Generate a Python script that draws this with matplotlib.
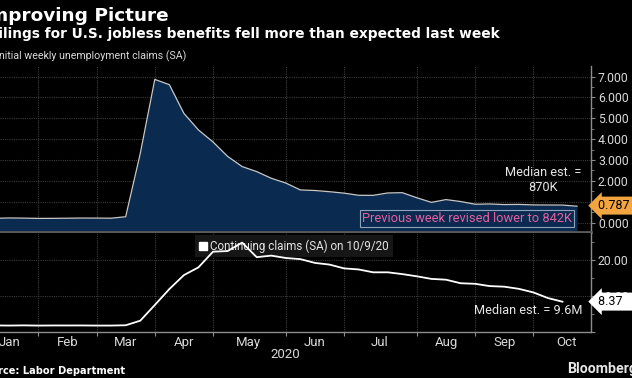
import matplotlib
matplotlib.use("Agg")
import matplotlib.pyplot as plt
import matplotlib.dates as mdates
from matplotlib.lines import Line2D
from matplotlib.ticker import FixedLocator, FixedFormatter, NullFormatter
import pandas as pd

plt.rcParams['font.family'] = ['Roboto', 'DejaVu Sans']

# ---------------- data ----------------
initial_dates = pd.date_range('2020-01-04', '2020-10-17', freq='7D')
initial_claims = [0.214, 0.207, 0.223, 0.216, 0.202, 0.205, 0.211, 0.219, 0.217, 0.211,
                  0.282, 3.307, 6.867, 6.615, 5.237, 4.442, 3.867, 3.176, 2.687, 2.446,
                  2.126, 1.897, 1.566, 1.540, 1.482, 1.413, 1.310, 1.307, 1.422, 1.435,
                  1.191, 0.971, 1.104, 1.011, 0.881, 0.893, 0.866, 0.873, 0.849, 0.845,
                  0.842, 0.787]

continuing_dates = pd.date_range('2020-01-04', '2020-10-10', freq='7D')
continuing_claims = [1.803, 1.741, 1.703, 1.751, 1.698, 1.726, 1.724, 1.730, 1.699, 1.702,
                     1.784, 3.059, 7.446, 11.914, 15.819, 17.992, 22.377, 22.548, 24.912, 20.838,
                     21.268, 20.606, 20.289, 19.231, 18.760, 17.700, 17.400, 16.600, 16.600, 16.100,
                     15.480, 14.759, 14.535, 13.544, 13.385, 12.747, 12.580, 11.979, 10.976, 9.397,
                     8.373]

month_boundaries = ['2020-02-01', '2020-02-29', '2020-03-28', '2020-04-25', '2020-05-30',
                    '2020-06-27', '2020-08-01', '2020-08-29', '2020-09-26']
month_label_dates = ['2020-01-18', '2020-02-15', '2020-03-14', '2020-04-11', '2020-05-12',
                     '2020-06-13', '2020-07-14', '2020-08-15', '2020-09-12', '2020-10-12']
month_labels = ['Jan', 'Feb', 'Mar', 'Apr', 'May', 'Jun', 'Jul', 'Aug', 'Sep', 'Oct']

top_ticks = [0, 1, 2, 3, 4, 5, 6, 7]
top_tick_labels = ['0.000', '1.000', '2.000', '3.000', '4.000', '5.000', '6.000', '7.000']
bottom_ticks = [0, 10, 20]
bottom_tick_labels = ['', '10.00', '20.00']

x_start = pd.Timestamp('2020-01-13 14:00')
x_end = pd.Timestamp('2020-10-23 17:00')

# ---------------- figure ----------------
W, H = 632, 378
BG = '#000000'
GRID = '#3a3a3a'
AXC = '#8c8c8c'
TXT = '#d9d9d9'
BOLDFONT = ['DejaVu Sans']

fig = plt.figure(figsize=(W / 100, H / 100), dpi=100, facecolor=BG)


def fx(x):
    return x / W


def fy(y):
    return 1 - y / H


ax1 = fig.add_axes([0, fy(232), fx(591), (232 - 66) / H], facecolor=BG)
ax2 = fig.add_axes([0, fy(332), fx(591), (332 - 233) / H], facecolor=BG)

xnum_b = mdates.date2num(pd.to_datetime(month_boundaries))
xnum_l = mdates.date2num(pd.to_datetime(month_label_dates))

for ax in (ax1, ax2):
    ax.set_xlim(x_start, x_end)
    ax.set_axisbelow(True)
    for s in ('top', 'left'):
        ax.spines[s].set_visible(False)
    ax.spines['right'].set_color(AXC)
    ax.spines['right'].set_linewidth(1.0)
    ax.yaxis.tick_right()
    ax.xaxis.set_major_locator(FixedLocator(xnum_b))
    ax.xaxis.set_major_formatter(NullFormatter())
    ax.grid(True, which='major', color=GRID, lw=0.8, ls=(0, (1, 1)))
    ax.tick_params(axis='y', which='both', direction='out', colors=AXC,
                   labelcolor=TXT, labelsize=8.8, pad=2)
    ax.tick_params(axis='y', which='major', length=3)
    ax.tick_params(axis='y', which='minor', length=2)

# ---- top panel ----
ax1.set_ylim(-0.45, 7.51)
ax1.fill_between(initial_dates, initial_claims, -0.45, color='#0b2a50', zorder=2, lw=0)
ax1.plot(initial_dates, initial_claims, color='#c8c8c8', lw=0.9, zorder=3)
ax1.set_yticks(top_ticks)
ax1.set_yticklabels(top_tick_labels)
ax1.set_yticks([v + 0.5 for v in top_ticks[:-1]], minor=True)
ax1.tick_params(axis='x', which='both', length=0, labelbottom=False)
ax1.spines['bottom'].set_color('#5a5a5a')
ax1.spines['bottom'].set_linewidth(2.0)

# ---- bottom panel ----
ax2.set_ylim(-0.1, 27.6)
ax2.plot(continuing_dates, continuing_claims, color='white', lw=1.3, zorder=3)
ax2.set_yticks(bottom_ticks)
ax2.set_yticklabels(bottom_tick_labels)
ax2.set_yticks([5, 15, 25], minor=True)
ax2.spines['bottom'].set_color(AXC)
ax2.spines['bottom'].set_linewidth(1.0)
ax2.xaxis.set_minor_locator(FixedLocator(xnum_l))
ax2.xaxis.set_minor_formatter(FixedFormatter(month_labels))
ax2.tick_params(axis='x', which='major', direction='out', length=3, colors=AXC)
ax2.tick_params(axis='x', which='minor', length=0, labelcolor=TXT, labelsize=9.5, pad=3)

handle = Line2D([], [], marker='s', color='white', ls='none', markersize=5.5)
leg = ax2.legend([handle], ['Continuing claims (SA) on 10/9/20'], loc='upper left',
                 bbox_to_anchor=(fx(195) / fx(591), (332 - 235.5) / 99),
                 frameon=True, facecolor='#161616', edgecolor='none', framealpha=1,
                 fancybox=False, fontsize=8.4, labelcolor='#e6e6e6', handlelength=0.7,
                 handletextpad=0.25, borderpad=0.35, borderaxespad=0)
leg.set_zorder(1.5)

# ---------------- texts ----------------
fig.text(fx(169), fy(16), 'Improving Picture', ha='right', va='center',
         fontsize=13.3, fontweight='bold', color='white', family=BOLDFONT)
fig.text(fx(500), fy(34), 'Filings for U.S. jobless benefits fell more than expected last week',
         ha='right', va='center', fontsize=9.9, fontweight='bold', color='white',
         family=BOLDFONT)
fig.text(fx(186), fy(56), 'Initial weekly unemployment claims (SA)', ha='right', va='center',
         fontsize=7.7, color=TXT)

fig.text(fx(543), fy(180), 'Median est. =\n870K', ha='center', va='center', fontsize=9.2,
         color='#e6e6e6', linespacing=1.2)
fig.text(fx(467), fy(218.5), 'Previous week revised lower to 842K', ha='center', va='center',
         fontsize=9.3, color='#e2609f',
         bbox=dict(boxstyle='square,pad=0.15', fc='none', ec='#8ea3bb', lw=0.8))
fig.text(fx(528), fy(311), 'Median est. = 9.6M', ha='center', va='center', fontsize=9.2,
         color='#e6e6e6')

fig.text(fx(598), fy(205.6), '0.787  ', ha='left', va='center', fontsize=9, color='black',
         bbox=dict(boxstyle='larrow,pad=0.2', fc='#f2a540', ec='none'))
fig.text(fx(598), fy(301.6), '8.37    ', ha='left', va='center', fontsize=9, color='black',
         bbox=dict(boxstyle='larrow,pad=0.2', fc='white', ec='none'))

fig.text(fx(285), fy(354), '2020', ha='center', va='center', fontsize=9.5, color=TXT)
fig.text(fx(125), fy(371), 'Source: Labor Department', ha='right', va='center',
         fontsize=7.1, fontweight='bold', color='white', family=BOLDFONT)
fig.text(fx(567), fy(369), 'Bloomberg', ha='left', va='center', fontsize=10.2,
         fontweight='bold', color='#e6e6e6')

fig.savefig('out.png', dpi=100, facecolor=BG)
